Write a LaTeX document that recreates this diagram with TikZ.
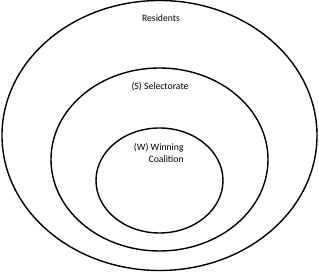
\documentclass[tikz,border=0pt]{standalone}
\usepackage{fontspec}
\setmainfont{Carlito}
\usetikzlibrary{shapes.geometric}

\begin{document}
\begin{tikzpicture}[
x=1pt, y=1pt,
ring/.style={draw, ellipse, line width=1.4pt, inner sep=0pt},
setlabel/.style={font=\fontsize{9.7}{12}\selectfont, inner sep=0pt, align=right} ]

\useasboundingbox (0,0) rectangle (319,272);

\node[ring, minimum width=315pt, minimum height=270pt](residents) at (159.5,136.5) {};

\node[ring, minimum width=217pt, minimum height=183pt](selectorate) at (159.5,112.5) {};

\node[ring, minimum width=127pt, minimum height=105pt](coalition) at (159.5,91.5) {};

\node[setlabel](residentslabel) at (161,254.3) {Residents};

\node[setlabel](selectoratelabel) at (160,185.3) {(S) Selectorate};

\node[setlabel](coalitionlabel) at (158.8,118.7) {(W) Winning\\Coalition};

\end{tikzpicture}
\end{document}
